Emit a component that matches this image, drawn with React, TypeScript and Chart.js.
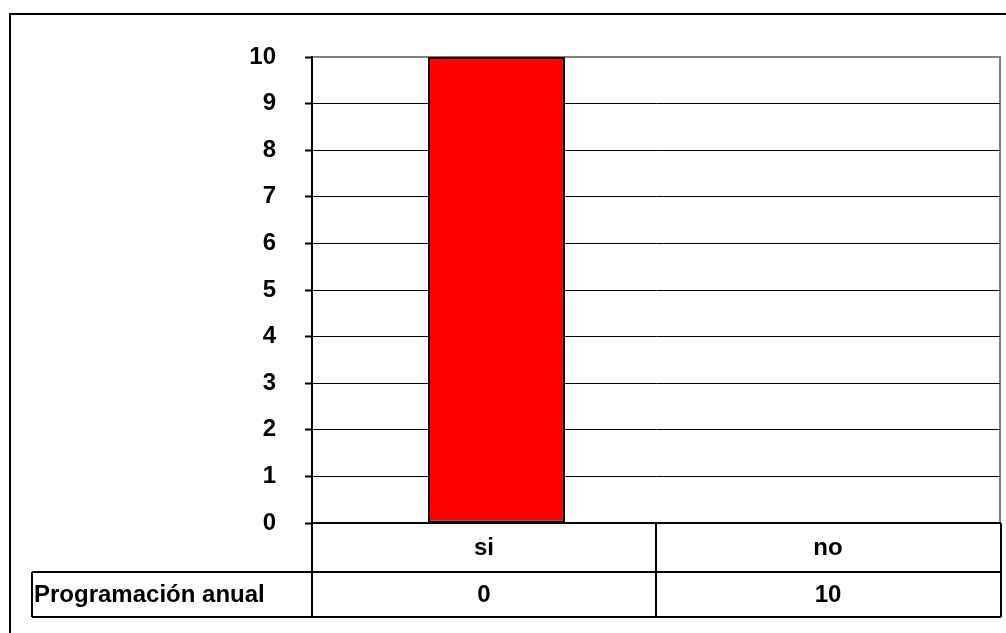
import React, { useEffect, useRef } from "react";
import { Chart, registerables } from "chart.js";

Chart.register(...registerables);

const categories = ["si", "no"];
const seriesName = "Programación anual";
const barValues = [10, 0];
const tableValues = ["0", "10"];
const yTicks = [0, 1, 2, 3, 4, 5, 6, 7, 8, 9, 10];

const FONT = "'Liberation Sans', Arial, sans-serif";

const tablePlugin = {
  id: "tablePlugin",
  beforeDraw(chart: any) {
    const { ctx, chartArea } = chart;
    ctx.save();
    ctx.fillStyle = "#ffffff";
    ctx.fillRect(0, 0, chart.width, chart.height);
    ctx.strokeStyle = "#808080";
    ctx.lineWidth = 2;
    ctx.strokeRect(chartArea.left, chartArea.top, chartArea.right - chartArea.left, chartArea.bottom - chartArea.top);
    ctx.restore();
  },
  afterDraw(chart: any) {
    const { ctx, chartArea } = chart;
    const xs = chart.scales.x;
    const half = (chartArea.right - chartArea.left) / categories.length / 2;
    const row1Top = chartArea.bottom;
    const row1Bot = row1Top + 49;
    const row2Bot = row1Bot + 45;
    const tableLeft = 32;
    const tableRight = chartArea.right + 1;
    ctx.save();
    ctx.strokeStyle = "#000000";
    ctx.lineWidth = 2;
    ctx.beginPath();
    const cols: number[] = [];
    categories.forEach((_, i) => {
      const c = xs.getPixelForValue(i);
      cols.push(c - half);
    });
    cols.push(tableRight);
    cols.forEach((x) => {
      ctx.moveTo(x, row1Top);
      ctx.lineTo(x, row2Bot);
    });
    ctx.moveTo(tableLeft, row1Bot);
    ctx.lineTo(tableRight, row1Bot);
    ctx.moveTo(tableLeft, row2Bot);
    ctx.lineTo(tableRight, row2Bot);
    ctx.moveTo(tableLeft, row1Bot);
    ctx.lineTo(tableLeft, row2Bot);
    ctx.stroke();

    ctx.fillStyle = "#000000";
    ctx.font = `bold 24px ${FONT}`;
    ctx.textBaseline = "middle";
    ctx.textAlign = "center";
    categories.forEach((cat, i) => {
      const c = xs.getPixelForValue(i);
      ctx.fillText(cat, c, (row1Top + row1Bot) / 2 + 1);
      ctx.fillText(tableValues[i], c, (row1Bot + row2Bot) / 2 + 1);
    });
    ctx.textAlign = "left";
    ctx.fillText(seriesName, 34, (row1Bot + row2Bot) / 2 + 1);

    ctx.lineWidth = 2;
    ctx.strokeRect(10, 14, chart.width + 20, chart.height + 20);
    ctx.restore();
  },
};

export default function App() {
  const ref = useRef<HTMLCanvasElement | null>(null);
  useEffect(() => {
    document.body.style.margin = "0";
    const canvas = ref.current;
    if (!canvas) return;
    const chart = new Chart(canvas, {
      type: "bar",
      data: {
        labels: categories,
        datasets: [
          {
            label: "",
            data: categories.map(() => null),
            backgroundColor: "rgba(0,0,0,0)",
            borderWidth: 0,
          },
          {
            label: seriesName,
            data: barValues,
            backgroundColor: "#ff0000",
            borderColor: "#000000",
            borderWidth: (c: any) => (c.raw ? 2 : 0),
            borderSkipped: false,
          },
        ],
      },
      options: {
        animation: false,
        responsive: false,
        devicePixelRatio: 1,
        events: [],
        layout: { padding: { left: 0, top: 57, right: 6, bottom: 110 } },
        plugins: { legend: { display: false }, tooltip: { enabled: false }, title: { display: false } },
        datasets: {
          bar: { categoryPercentage: 0.1453, barPercentage: 5.48 },
        },
        scales: {
          x: {
            type: "category",
            offset: true,
            grid: { display: false },
            ticks: { display: false },
            border: { display: true, color: "#000000", width: 2 },
            afterFit: (s: any) => {
              s.height = 0;
            },
          },
          y: {
            min: 0,
            max: 10,
            afterBuildTicks: (s: any) => {
              s.ticks = yTicks.map((v) => ({ value: v }));
            },
            grid: {
              color: (c: any) => (c.tick && c.tick.value === 10 ? "#808080" : "#000000"),
              lineWidth: 1,
              tickLength: 7,
              tickColor: "#000000",
              tickWidth: 2,
            },
            border: { display: true, color: "#000000", width: 2 },
            ticks: {
              padding: 29,
              color: "#000000",
              font: { family: FONT, size: 24, weight: "bold" },
            },
            afterFit: (s: any) => {
              s.width = 312;
            },
          },
        },
      },
      plugins: [tablePlugin],
    } as any);
    return () => chart.destroy();
  }, []);
  return <canvas ref={ref} width={1006} height={633} style={{ display: "block", width: 1006, height: 633 }} />;
}
